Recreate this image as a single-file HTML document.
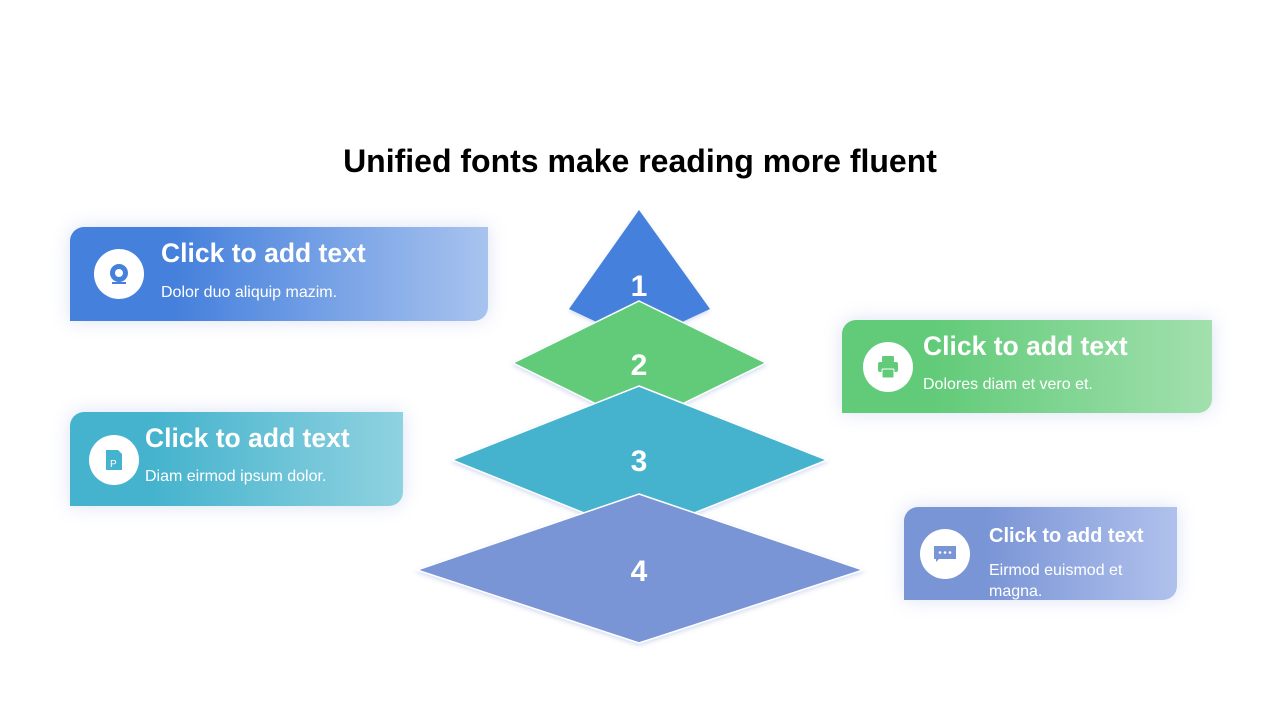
<!DOCTYPE html>
<html><head><meta charset="utf-8"><style>
body{margin:0;width:1280px;height:720px;background:#fff;position:relative;overflow:hidden;font-family:"Liberation Sans",Arial,sans-serif}
.t{position:absolute;left:0;width:1280px;top:143px;text-align:center;font-size:32px;font-weight:bold;color:#000}
.card{position:absolute;border-radius:14px 0 14px 0;box-shadow:0 0 18px rgba(120,140,220,0.25);color:#fff}
.c{position:absolute;width:50px;height:50px;border-radius:50%;background:#fff}
.h{position:absolute;font-weight:bold;white-space:nowrap}
.s{position:absolute;font-size:16px;white-space:nowrap;line-height:21px}
</style></head><body>
<div class="t">Unified fonts make reading more fluent</div>

<svg width="1280" height="720" style="position:absolute;left:0;top:0">
<defs><filter id="sh" x="-10%" y="-10%" width="120%" height="130%"><feDropShadow dx="0" dy="2" stdDeviation="2" flood-color="#9ad" flood-opacity="0.4"/></filter></defs>
<polygon points="639,210 710,309 639,342 569,309" fill="#4580dc" filter="url(#sh)"/>
<polygon points="639,301 766,363 639,425 513,363" fill="#62cb79" stroke="#fff" stroke-width="1.5" filter="url(#sh)"/>
<polygon points="639,386 827,460 639,535 452,460" fill="#45b3cd" stroke="#fff" stroke-width="1.5" filter="url(#sh)"/>
<polygon points="639,494 863,570 639,643 417,570" fill="#7a95d6" stroke="#fff" stroke-width="1.5" filter="url(#sh)"/>
<g fill="#fff" font-family="Liberation Sans,Arial,sans-serif" font-weight="bold" font-size="30" text-anchor="middle">
<text x="639" y="296">1</text><text x="639" y="375">2</text><text x="639" y="471">3</text><text x="639" y="581">4</text></g>
</svg>

<div class="card" style="left:70px;top:227px;width:418px;height:94px;background:linear-gradient(90deg,#4580dc 25%,#a8c3ef)">
 <div class="c" style="left:24px;top:22px"><svg width="50" height="50"><circle cx="25" cy="24" r="9" fill="#4580dc"/><circle cx="25" cy="24" r="4" fill="#fff"/><rect x="18" y="33" width="14" height="2" fill="#4580dc"/></svg></div>
 <div class="h" style="left:91px;top:11px;font-size:26.5px">Click to add text</div>
 <div class="s" style="left:91px;top:55px">Dolor duo aliquip mazim.</div>
</div>

<div class="card" style="left:70px;top:412px;width:333px;height:94px;background:linear-gradient(90deg,#45b3cd 25%,#8fd2e0)">
 <div class="c" style="left:19px;top:23px"><svg width="50" height="50"><path d="M17 15h12l4 4v16H17z" fill="#45b3cd"/><text x="21" y="32" font-size="10" fill="#fff" font-family="Liberation Sans">P</text></svg></div>
 <div class="h" style="left:75px;top:11px;font-size:26.5px">Click to add text</div>
 <div class="s" style="left:75px;top:54px">Diam eirmod ipsum dolor.</div>
</div>

<div class="card" style="left:842px;top:320px;width:370px;height:93px;background:linear-gradient(90deg,#62cb79 25%,#a2e0ae)">
 <div class="c" style="left:21px;top:22px"><svg width="50" height="50"><rect x="19" y="14" width="12" height="6" rx="1" fill="#62cb79"/><rect x="15" y="20" width="20" height="10" rx="2" fill="#62cb79"/><rect x="19" y="27" width="12" height="9" rx="1" fill="#62cb79" stroke="#fff"/></svg></div>
 <div class="h" style="left:81px;top:11px;font-size:26.5px">Click to add text</div>
 <div class="s" style="left:81px;top:54px">Dolores diam et vero et.</div>
</div>

<div class="card" style="left:904px;top:507px;width:273px;height:93px;background:linear-gradient(90deg,#7a95d6 30%,#b0c1ec)">
 <div class="c" style="left:16px;top:22px"><svg width="50" height="50"><path d="M14 17h22v13H19l-3 3v-3h-2z" fill="#7a95d6"/><circle cx="20" cy="23.5" r="1.3" fill="#fff"/><circle cx="25" cy="23.5" r="1.3" fill="#fff"/><circle cx="30" cy="23.5" r="1.3" fill="#fff"/></svg></div>
 <div class="h" style="left:85px;top:18px;font-size:20px">Click to add text</div>
 <div class="s" style="left:85px;top:53px">Eirmod euismod et<br>magna.</div>
</div>
</body></html>
